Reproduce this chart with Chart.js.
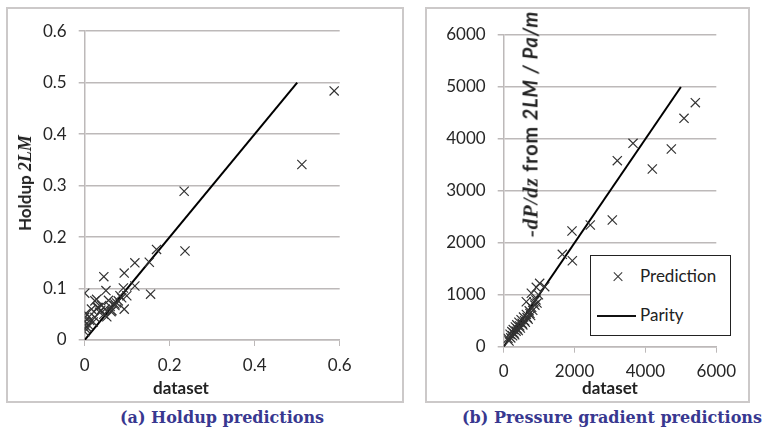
<!DOCTYPE html>
<html>
<head>
<meta charset="utf-8">
<script src="https://cdn.jsdelivr.net/npm/chart.js@4.4.1/dist/chart.umd.min.js"></script>
<style>
  html, body { margin: 0; padding: 0; background: #fff; }
  body { position: relative; width: 766px; height: 430px; overflow: hidden; font-family: Lato, "Open Sans", sans-serif; color: #222; }
  .panel { position: absolute; border: 2px solid #ccc9c9; box-sizing: border-box; }
  #panelA { left: 6px; top: 7px; width: 398px; height: 396px; }
  #panelB { left: 425px; top: 7px; width: 325px; height: 396px; }
  canvas { position: absolute; }
  #holdup { left: 8px; top: 9px; }
  #pressure { left: 427px; top: 9px; }
  .lbl { position: absolute; white-space: nowrap; font-weight: bold; font-size: 17px; line-height: 20px; }
  .rot { transform: translate(-50%, -50%) rotate(-90deg); }
  .it { font-family: "Liberation Serif", serif; font-style: italic; font-size: 18px; }
  .dp { font-size: 20px; letter-spacing: 0.8px; }
  .dp .it { font-size: 21px; }
  .dp .is { font-style: italic; }
  .xt { transform: translate(-50%, -50%); }
  .caption { position: absolute; font-family: "DejaVu Serif", serif; font-weight: bold; font-size: 16px; color: #383890; white-space: nowrap; transform: translateY(-50%); }
  #legendB { position: absolute; left: 590px; top: 255px; width: 141px; height: 81px; box-sizing: border-box; border: 1.5px solid #222; background: #fff; }
  .lgText { position: absolute; font-size: 17px; line-height: 20px; color: #222; transform: translateY(-50%); }
  .cross { position: absolute; width: 12px; height: 1.3px; background: #333; }
</style>
</head>
<body>
<div class="panel" id="panelA"></div>
<div class="panel" id="panelB"></div>
<canvas id="holdup" width="394" height="390"></canvas>
<canvas id="pressure" width="321" height="390"></canvas>

<div class="lbl rot" style="left:25px; top:183px;">Holdup <span class="it">2LM</span></div>
<div class="lbl xt" style="left:181px; top:388px;">dataset</div>
<div class="lbl rot dp" style="left:530px; top:124px;"><span class="it">-dP/dz</span> from <span class="is">2LM / Pa/m</span></div>
<div class="lbl xt" style="left:610px; top:388px;">dataset</div>

<div id="legendB">
  <div class="cross" style="left:21px; top:19.5px; transform: rotate(45deg);"></div>
  <div class="cross" style="left:21px; top:19.5px; transform: rotate(-45deg);"></div>
  <div class="lgText" style="left:49px; top:20px;">Prediction</div>
  <div style="position:absolute; left:6px; top:58.5px; width:39px; height:2px; background:#111;"></div>
  <div class="lgText" style="left:49px; top:59px;">Parity</div>
</div>

<div class="caption" style="left:120px; top:417px;">(a) Holdup predictions</div>
<div class="caption" style="left:462px; top:417px;">(b) Pressure gradient predictions</div>

<script>
// holdup: measured (dataset) vs 2LM prediction
const holdupMeasured = [0.587, 0.511, 0.234, 0.236, 0.169, 0.152, 0.118, 0.155, 0.118, 0.093, 0.045, 0.000, 0.050, 0.093,
  0.091, 0.087, 0.099, 0.083, 0.079, 0.071, 0.071, 0.064, 0.056, 0.048, 0.040, 0.035, 0.032, 0.028, 0.024, 0.030,
  0.024, 0.016, 0.012, 0.005, 0.000, 0.000, 0.000, 0.003, 0.008, 0.002, 0.010, 0.045, 0.060, 0.075, 0.038, 0.020,
  0.062, 0.052];
const holdupPredicted = [0.484, 0.341, 0.289, 0.173, 0.176, 0.151, 0.150, 0.089, 0.105, 0.130, 0.123, 0.091, 0.096, 0.060,
  0.101, 0.082, 0.086, 0.086, 0.076, 0.067, 0.070, 0.057, 0.077, 0.060, 0.067, 0.054, 0.063, 0.079, 0.076, 0.063,
  0.044, 0.060, 0.038, 0.025, 0.044, 0.035, 0.016, 0.052, 0.030, 0.022, 0.045, 0.050, 0.065, 0.072, 0.058, 0.035,
  0.055, 0.045];

// pressure gradient -dP/dz in Pa/m
const dpMeasured = [5408, 5089, 4731, 4194, 3650, 3206, 3065, 2444, 1928, 1937, 1654, 1157, 920, 1015, 780, 638,
  120, 150, 180, 200, 230, 250, 270, 290, 310, 330, 350, 370, 390, 410, 430, 450, 470, 490, 520, 540,
  560, 590, 610, 640, 660, 690, 720, 740, 760, 790, 820, 850, 880, 910, 940, 980];
const dpPredicted = [4697, 4396, 3806, 3421, 3915, 3581, 2439, 2343, 2227, 1655, 1778, 1155, 1143, 1220, 1028, 866,
  160, 110, 240, 170, 290, 210, 330, 260, 230, 380, 300, 420, 340, 310, 470, 400, 360, 520, 450, 420,
  570, 500, 470, 620, 560, 530, 690, 640, 600, 760, 700, 860, 800, 900, 840, 1000];

// parity (y = x) end points
const holdupParity = [0, 0.5];
const dpParity = [0, 5000];

const tickFont = { family: 'Lato', size: 17 };
const gridColor = '#bdb9b9';

function pairs(xs, ys) {
  return xs.map((x, i) => ({ x: x, y: ys[i] }));
}

function makeChart(id, xs, ys, parity, opts) {
  return new Chart(document.getElementById(id), {
    type: 'scatter',
    data: {
      datasets: [
        {
          label: 'Prediction',
          data: pairs(xs, ys),
          pointStyle: 'crossRot',
          pointRadius: 6.5,
          borderColor: '#333',
          borderWidth: 1.2,
          backgroundColor: '#333'
        },
        {
          label: 'Parity',
          type: 'line',
          data: pairs(parity, parity),
          borderColor: '#000',
          borderWidth: 2,
          pointRadius: 0,
          showLine: true
        }
      ]
    },
    options: {
      responsive: false,
      animation: false,
      devicePixelRatio: 1,
      layout: { padding: opts.padding },
      plugins: { legend: { display: false }, tooltip: { enabled: false } },
      scales: {
        x: {
          type: 'linear',
          min: 0, max: opts.max,
          afterFit: (s) => { s.height = opts.xHeight; },
          ticks: { stepSize: opts.xStep, font: tickFont, color: '#262626', padding: 9, callback: opts.fmt, maxRotation: 0 },
          grid: { drawOnChartArea: false, drawTicks: true, tickLength: 6, color: gridColor },
          border: { color: gridColor, width: 1.5 }
        },
        y: {
          type: 'linear',
          min: 0, max: opts.max,
          afterFit: (s) => { s.width = 76.7; },
          ticks: { stepSize: opts.yStep, font: tickFont, color: '#262626', padding: 12, callback: opts.fmt },
          grid: { drawTicks: true, tickLength: 6, color: gridColor, lineWidth: 1.5 },
          border: { color: gridColor, width: 1.5 }
        }
      }
    }
  });
}

makeChart('holdup', holdupMeasured, holdupPredicted, holdupParity, {
  max: 0.6, xStep: 0.2, yStep: 0.1,
  padding: { left: 0, top: 15.7, right: 62.3, bottom: 0 },
  xHeight: 59,
  fmt: (v) => String(+v.toFixed(1))
});

makeChart('pressure', dpMeasured, dpPredicted, dpParity, {
  max: 6000, xStep: 2000, yStep: 1000,
  padding: { left: 0, top: 26, right: 31.7, bottom: 0 },
  xHeight: 52.3,
  fmt: (v) => String(Math.round(v))
});
</script>
</body>
</html>
